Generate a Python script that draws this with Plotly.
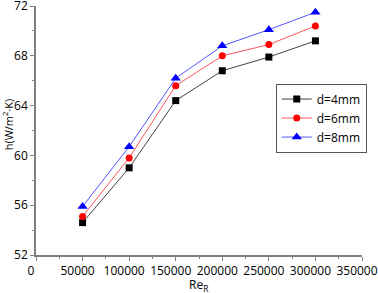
import plotly.graph_objects as go

re_values = [50000, 100000, 150000, 200000, 250000, 300000]
h_d4 = [54.6, 59.0, 64.4, 66.8, 67.9, 69.2]
h_d6 = [55.1, 59.8, 65.6, 68.0, 68.9, 70.4]
h_d8 = [55.9, 60.7, 66.2, 68.8, 70.1, 71.5]
series_names = ["d=4mm", "d=6mm", "d=8mm"]
x_ticks = [0, 50000, 100000, 150000, 200000, 250000, 300000, 350000]
y_ticks = [52, 56, 60, 64, 68, 72]

styles = [
    dict(line="#444444", marker="#000000", symbol="square", size=7),
    dict(line="#ff5555", marker="#ff0000", symbol="circle", size=7),
    dict(line="#5555ff", marker="#0000ff", symbol="triangle-up", size=9),
]

fig = go.Figure()
for name, ys, st in zip(series_names, [h_d4, h_d6, h_d8], styles):
    fig.add_trace(go.Scatter(
        x=re_values, y=ys, name=name, mode="lines+markers",
        line=dict(color=st["line"], width=1),
        marker=dict(color=st["marker"], symbol=st["symbol"], size=st["size"]),
        cliponaxis=False,
    ))

axis_common = dict(
    showline=True, linecolor="#808080", linewidth=1.5,
    ticks="outside", ticklen=4, tickcolor="#808080", tickwidth=1,
    showgrid=False, zeroline=False, mirror=False, automargin=False,
    ticklabeloverflow="allow",
    tickfont=dict(family="Open Sans", size=12, color="#000000"),
)

fig.update_layout(
    width=378, height=293,
    margin=dict(l=36, r=16, t=6, b=38),
    plot_bgcolor="white", paper_bgcolor="white",
    font=dict(family="Open Sans", size=12, color="#000000"),
    xaxis=dict(
        range=[0, 350000], tickvals=x_ticks, ticktext=[str(v) for v in x_ticks],
        minor=dict(ticks="outside", ticklen=2, tickcolor="#808080", dtick=25000, tick0=0),
        ticklabelshift=-5,
        **axis_common,
    ),
    yaxis=dict(
        range=[52, 72], tickvals=y_ticks, ticktext=[str(v) for v in y_ticks],
        minor=dict(ticks="outside", ticklen=2, tickcolor="#808080", dtick=2, tick0=52),
        **axis_common,
    ),
    legend=dict(
        x=0.875, y=0.55, xanchor="center", yanchor="middle",
        bordercolor="#555555", borderwidth=1, bgcolor="white",
        font=dict(family="Open Sans", size=12), itemwidth=30,
        tracegroupgap=0,
    ),
    annotations=[
        dict(text="Re<sub>R</sub>", xref="paper", yref="paper", x=0.5, y=-0.122,
             xanchor="center", yanchor="middle", showarrow=False,
             font=dict(family="Open Sans", size=12)),
        dict(text="h(W/m<sup>2</sup>·K)", xref="paper", yref="paper", x=-0.085, y=0.526,
             xanchor="center", yanchor="middle", textangle=-90, showarrow=False,
             font=dict(family="Open Sans", size=11)),
    ],
)

fig.write_html("out.html", config={"displayModeBar": False},
               post_script="document.body.style.margin='0px';")
